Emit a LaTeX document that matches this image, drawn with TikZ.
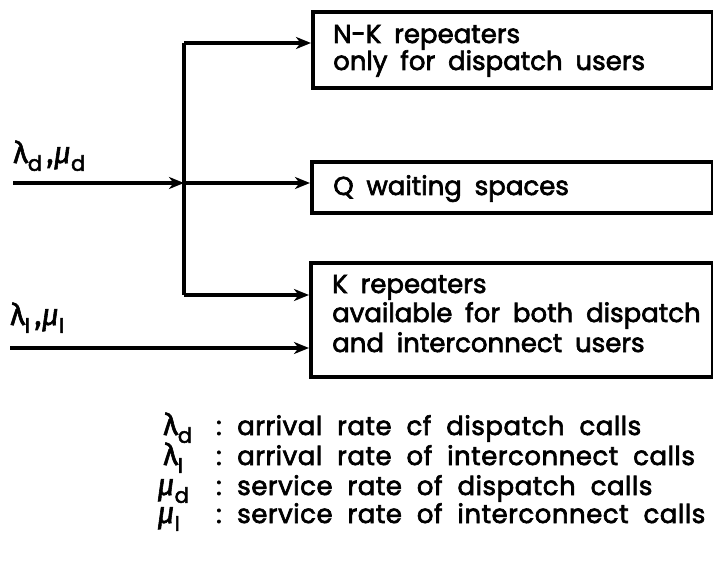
\documentclass[tikz,border=0pt]{standalone}
\usepackage{fontspec}
\setmainfont{Poppins}[FakeBold=2.5, WordSpace=1.85]
\newfontfamily\legendfont{Poppins}[FakeBold=2.5, WordSpace=2.0, LetterSpace=2]
\newfontfamily\grk{Fira Sans}[FakeBold=2]
\usetikzlibrary{arrows.meta}

% Greek symbols with lowered subscripts
\newcommand{\lam}[1]{{\grk\fontsize{30}{30}\selectfont λ}\raisebox{-0.3em}{\fontsize{21}{22}\selectfont #1}}
\newcommand{\muu}[1]{{\grk\itshape\fontsize{30}{30}\selectfont μ}\raisebox{-0.3em}{\fontsize{21}{22}\selectfont #1}}

\tikzset{
  box/.style={draw, line width=3.6pt, inner sep=0pt, anchor=north west},
  flow/.style={line width=3.2pt},
  arr/.style={flow, -{Stealth[length=15pt, width=12pt, inset=4.5pt]}},
  txt/.style={inner sep=0pt, anchor=base west, font=\fontsize{26}{30}\selectfont},
  leg/.style={txt, font=\legendfont\fontsize{26}{30}\selectfont},
}

\begin{document}
\begin{tikzpicture}[x=1pt, y=-1pt]
  \useasboundingbox (0,0) rectangle (713,567);

  % the three service blocks
  \node[box, minimum width=400pt, minimum height=76pt]  (nk) at (311,10)  {};
  \node[box, minimum width=401pt, minimum height=51pt]  (q)  at (310,160) {};
  \node[box, minimum width=402pt, minimum height=114pt] (k)  at (309,261) {};

  \node[txt] (nk1) at (333,43)  {N-K repeaters};
  \node[txt] (nk2) at (333,70)  {only for dispatch users};
  \node[txt] (q1)  at (333,195) {Q waiting spaces};
  \node[txt] (k1)  at (332,293) {K repeaters};
  \node[txt] (k2)  at (332,322) {available for both dispatch};
  \node[txt] (k3)  at (332,352) {and interconnect users};

  % splitting of the dispatch stream
  \coordinate (top) at (184,43);
  \coordinate (mid) at (184,183);
  \coordinate (bot) at (184,295);
  \coordinate (ind) at (13,183);
  \coordinate (ini) at (10,348);

  \draw[flow] (top) -- (bot);
  \draw[arr] (ind) -- (mid);
  \draw[arr] (top) -- (nk.west |- top);
  \draw[arr] (mid) -- (q.west |- mid);
  \draw[arr] (bot) -- (k.west |- bot);
  \draw[arr] (ini) -- (k.west |- ini);

  \node[txt] (ld) at (13,163) {\lam{d}\,{\grk\fontsize{30}{30}\selectfont ,}\muu{d}};
  \node[txt] (li) at (10,325) {\lam{I}\,{\grk\fontsize{30}{30}\selectfont ,}\muu{I}};

  % legend
  \node[txt] (s1) at (163,435) {\lam{d}};
  \node[txt] (s2) at (163,465) {\lam{I}};
  \node[txt] (s3) at (157,495) {\muu{d}};
  \node[txt] (s4) at (157,523) {\muu{I}};
  \foreach \y/\n in {435/1,465/2,495/3,523/4}
    \node[txt] (c\n) at (216,\y) {:};
  \node[leg] (t1) at (237,435) {arrival rate cf dispatch calls};
  \node[leg] (t2) at (237,465) {arrival rate of interconnect calls};
  \node[leg] (t3) at (237,495) {service rate of dispatch calls};
  \node[leg] (t4) at (237,523) {service rate of interconnect calls};
\end{tikzpicture}
\end{document}
